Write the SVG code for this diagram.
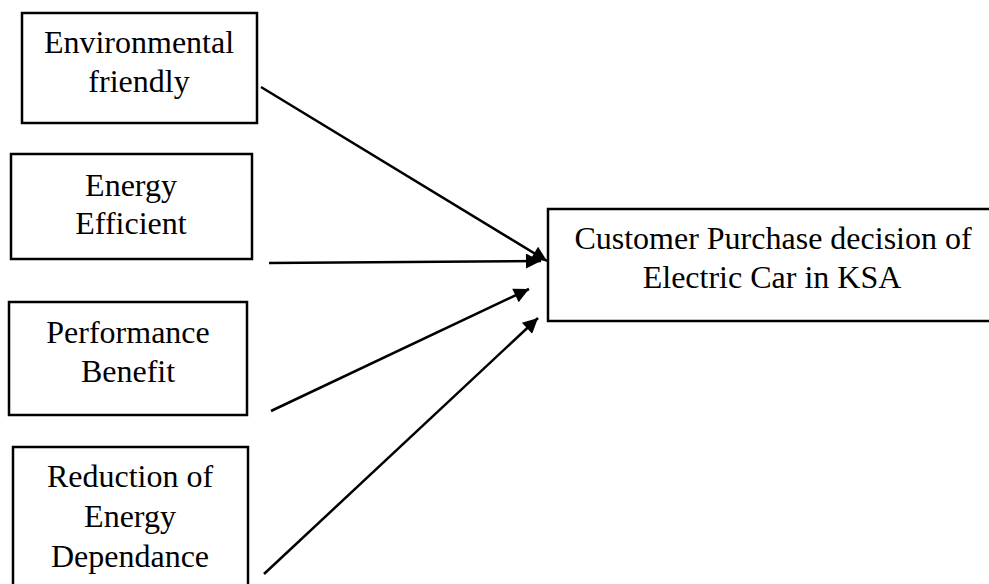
<svg xmlns="http://www.w3.org/2000/svg" width="989" height="584" viewBox="0 0 989 584">
  <style>
    .box { fill: #ffffff; stroke: #000000; stroke-width: 2.5; }
    .label { font-family: "Liberation Serif", "Times New Roman", serif; font-size: 32px; fill: #000000; text-anchor: middle; }
    .edge { stroke: #000000; stroke-width: 2.5; fill: none; marker-end: url(#arrow); }
  </style>
  <defs>
    <marker id="arrow" viewBox="0 0 10 10" refX="10" refY="5" markerWidth="7" markerHeight="6" markerUnits="strokeWidth" orient="auto">
      <path d="M0,0 L10,5 L0,10 Z" fill="#000000"/>
    </marker>
  </defs>
  <rect width="989" height="584" fill="#ffffff"/>

  <g id="env-friendly">
    <rect class="box" x="22" y="13" width="235" height="110"/>
    <text class="label" x="139" y="53">Environmental</text>
    <text class="label" x="139" y="92">friendly</text>
  </g>

  <g id="energy-efficient">
    <rect class="box" x="11" y="154" width="241" height="105"/>
    <text class="label" x="131" y="196">Energy</text>
    <text class="label" x="131" y="234">Efficient</text>
  </g>

  <g id="performance-benefit">
    <rect class="box" x="9" y="302" width="238" height="113"/>
    <text class="label" x="128" y="343">Performance</text>
    <text class="label" x="128" y="382">Benefit</text>
  </g>

  <g id="energy-dependance">
    <rect class="box" x="13" y="447" width="235" height="150"/>
    <text class="label" x="130" y="487">Reduction of</text>
    <text class="label" x="130" y="527">Energy</text>
    <text class="label" x="130" y="567">Dependance</text>
  </g>

  <g id="purchase-decision">
    <rect class="box" x="548" y="209" width="452" height="112"/>
    <text class="label" x="773" y="249">Customer Purchase decision of</text>
    <text class="label" x="772" y="288">Electric Car in KSA</text>
  </g>

  <g id="connectors">
    <line class="edge" x1="261" y1="87" x2="547" y2="261"/>
    <line class="edge" x1="269" y1="263" x2="541" y2="261"/>
    <line class="edge" x1="271" y1="411" x2="529" y2="289"/>
    <line class="edge" x1="264" y1="574" x2="538" y2="318"/>
  </g>
</svg>
